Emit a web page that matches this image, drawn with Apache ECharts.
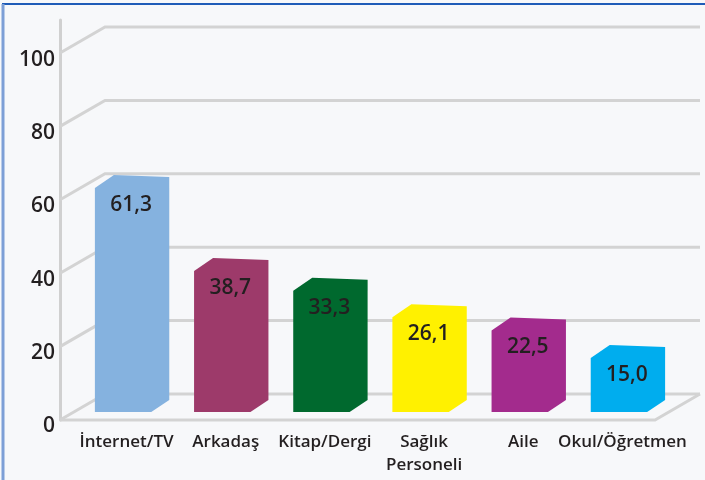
<!DOCTYPE html>
<html>
<head>
<meta charset="utf-8">
<script src="https://cdn.jsdelivr.net/npm/echarts@6/dist/echarts.min.js"></script>
<style>
html,body{margin:0;padding:0;background:#f7f8fa;}
#c{width:705px;height:480px;}
</style>
</head>
<body>
<div id="c"></div>
<script>
const categories = ["İnternet/TV", "Arkadaş", "Kitap/Dergi", "Sağlık\nPersoneli", "Aile", "Okul/Öğretmen"];
const values = [61.3, 38.7, 33.3, 26.1, 22.5, 15.0];
const valueLabels = ["61,3", "38,7", "33,3", "26,1", "22,5", "15,0"];
const barColors = ["#85b2df", "#9d3a6a", "#00692e", "#fff100", "#a32b8d", "#00adee"];
const yTicks = [0, 20, 40, 60, 80, 100];

const FONT = '"Open Sans", "Noto Sans", sans-serif';
const DX = 45, DY = 26; // depth of the pseudo-3D box

const chart = echarts.init(document.getElementById('c'), null, {renderer: 'canvas'});

function renderGrid(params, api) {
  const cs = params.coordSys;
  const v = api.value(1);
  const y = api.coord([0, v])[1];
  const x0 = cs.x, x1 = cs.x + cs.width;
  const style = {stroke: '#d3d3d3', lineWidth: 3, fill: null};
  const children = [{
    type: 'polyline',
    shape: {points: [[x0, y], [x0 + DX, y - DY], [x1 + DX, y - DY]]},
    style: style
  }];
  if (v === 0) {
    children.push({
      type: 'polyline',
      shape: {points: [[x0, y], [x1, y], [x1 + DX, y - DY]]},
      style: style
    });
  }
  return {type: 'group', children: children};
}

function renderBar(params, api) {
  const idx = api.value(0);
  const base = api.coord([idx, 0]);
  const top = api.coord([idx, api.value(1)]);
  const cx = base[0] + DX / 2;
  const w = api.size([1, 0])[0] * 0.75;
  const xL = cx - w / 2, xR = cx + w / 2;
  const yT = top[1] - 18;
  const y0 = base[1];
  const pts = [
    [xL, yT + 11],
    [xL + 19, yT - 2],
    [xR, yT],
    [xR, y0 - 20],
    [xR - 18, y0 - 8],
    [xL, y0 - 8]
  ];
  return {
    type: 'group',
    children: [
      {type: 'polygon', shape: {points: pts}, style: {fill: barColors[params.dataIndex]}},
      {type: 'text', style: {
        x: cx - 1, y: yT + 28, text: valueLabels[params.dataIndex],
        align: 'center', verticalAlign: 'middle',
        fill: '#231f20', font: '600 21px ' + FONT
      }}
    ]
  };
}

const option = {
  backgroundColor: '#f7f8fa',
  animation: false,
  grid: {left: 60, right: 50, top: 20, bottom: 60},
  xAxis: {
    type: 'category',
    data: categories,
    boundaryGap: true,
    axisLine: {show: false},
    axisTick: {show: false},
    axisLabel: {
      interval: 0,
      margin: 11,
      color: '#231f20',
      fontFamily: FONT,
      fontWeight: 600,
      fontSize: 17,
      lineHeight: 23,
      padding: [0, 0, 0, 34]
    }
  },
  yAxis: {
    type: 'value',
    min: 0,
    max: 109,
    interval: 20,
    splitLine: {show: false},
    axisTick: {show: false},
    axisLine: {show: true, lineStyle: {color: '#d0d0d0', width: 3}},
    axisLabel: {
      showMaxLabel: false,
      margin: 5,
      color: '#231f20',
      fontFamily: FONT,
      fontWeight: 600,
      fontSize: 21,
      verticalAlign: 'top',
      lineHeight: 13
    }
  },
  graphic: [
    {type: 'line', shape: {x1: 2, y1: 4, x2: 705, y2: 4}, style: {stroke: '#1f5cb8', lineWidth: 2}, z: 100},
    {type: 'line', shape: {x1: 3, y1: 4, x2: 3, y2: 480}, style: {stroke: '#7d9fd6', lineWidth: 3}, z: 100}
  ],
  series: [
    {
      type: 'custom',
      z: 1,
      clip: false,
      renderItem: renderGrid,
      data: yTicks.map(t => [0, t])
    },
    {
      type: 'custom',
      z: 3,
      clip: false,
      renderItem: renderBar,
      data: values.map((v, i) => [i, v])
    }
  ]
};
chart.setOption(option);
</script>
</body>
</html>
